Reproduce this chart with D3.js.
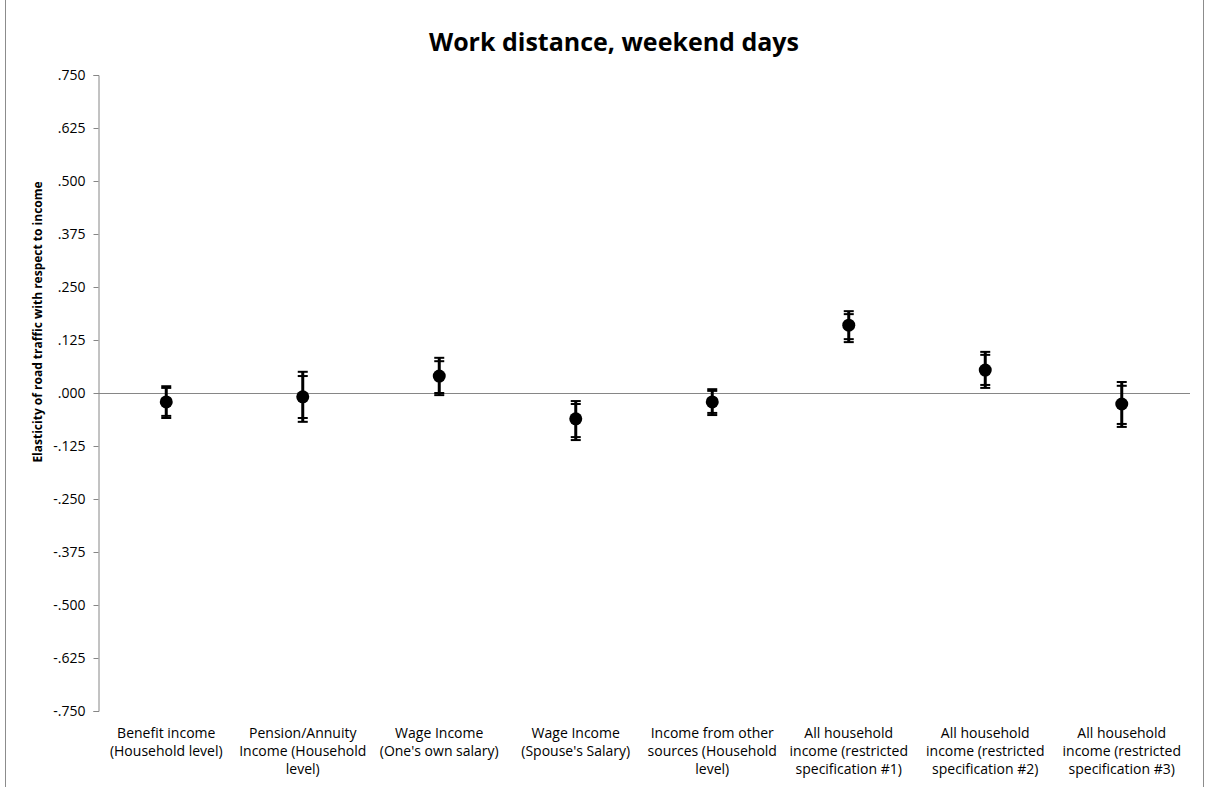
<!DOCTYPE html>
<html>
<head>
<meta charset="utf-8">
<script src="https://cdn.jsdelivr.net/npm/d3@7"></script>
<style>
  html, body { margin: 0; padding: 0; background: #fff; }
  svg { display: block; font-family: "Open Sans", "Noto Sans", sans-serif; }
</style>
</head>
<body>
<svg id="chart" width="1208" height="787"></svg>
<script>
// Income categories, one array of label lines each
const categories = [
  ["Benefit income", "(Household level)"],
  ["Pension/Annuity", "Income (Household", "level)"],
  ["Wage Income", "(One's own salary)"],
  ["Wage Income", "(Spouse's Salary)"],
  ["Income from other", "sources (Household", "level)"],
  ["All household", "income (restricted", "specification #1)"],
  ["All household", "income (restricted", "specification #2)"],
  ["All household", "income (restricted", "specification #3)"]
];

// Point estimates of the elasticity
const estimates = [-0.021, -0.009, 0.040, -0.061, -0.021, 0.160, 0.054, -0.026];

// Wider confidence interval (outer caps)
const outerLow  = [-0.059, -0.068, -0.005, -0.111, -0.052, 0.120, 0.012, -0.080];
const outerHigh = [ 0.016,  0.050,  0.083, -0.019,  0.009, 0.193, 0.097,  0.026];

// Narrower confidence interval (inner caps)
const innerLow  = [-0.054, -0.059,  0.000, -0.104, -0.047, 0.127, 0.019, -0.073];
const innerHigh = [ 0.012,  0.040,  0.075, -0.026,  0.005, 0.186, 0.090,  0.017];

// Y-axis tick values
const yTicks = [0.75, 0.625, 0.5, 0.375, 0.25, 0.125, 0, -0.125, -0.25, -0.375, -0.5, -0.625, -0.75];

const titleText = "Work distance, weekend days";
const yTitleText = "Elasticity of road traffic with respect to income";

const svg = d3.select("#chart");
const W = 1208, H = 787;
const margin = { left: 98, right: 18, top: 75, bottom: 76 };

// Chart area border
svg.append("rect")
  .attr("x", 5.5).attr("y", -5)
  .attr("width", 1198).attr("height", H + 10)
  .attr("fill", "none").attr("stroke", "#8c8c8c").attr("stroke-width", 1);

const x = d3.scaleBand()
  .domain(d3.range(categories.length))
  .range([margin.left, W - margin.right])
  .paddingInner(0).paddingOuter(0);

const y = d3.scaleLinear()
  .domain([-0.75, 0.75])
  .range([H - margin.bottom, margin.top]);

const fmt = v => {
  const s = d3.format(".3f")(Math.abs(v)).replace(/^0/, "");
  return (v < 0 ? "-" : "") + s;
};

// Y axis
const yAxis = d3.axisLeft(y)
  .tickValues(yTicks)
  .tickFormat(fmt)
  .tickSize(5)
  .tickPadding(8);

const gy = svg.append("g")
  .attr("transform", `translate(${margin.left + 0.5},0)`)
  .call(yAxis);
gy.select(".domain").attr("stroke", "#868686").attr("stroke-width", 1);
gy.selectAll(".tick line").attr("stroke", "#868686");
gy.selectAll(".tick text")
  .attr("fill", "#000")
  .style("font-family", "'Open Sans', sans-serif")
  .style("font-size", "14px");

// Zero line acting as the category axis
svg.append("line")
  .attr("x1", margin.left).attr("x2", W - margin.right)
  .attr("y1", Math.round(y(0)) + 0.5).attr("y2", Math.round(y(0)) + 0.5)
  .attr("stroke", "#868686").attr("stroke-width", 1);

// Category labels
const labels = svg.append("g").attr("class", "cat-labels");
categories.forEach((lines, i) => {
  const t = labels.append("text")
    .attr("x", x(i) + x.bandwidth() / 2)
    .attr("y", 738)
    .attr("text-anchor", "middle")
    .style("font-size", "14px")
    .attr("fill", "#000");
  lines.forEach((ln, j) => {
    t.append("tspan")
      .attr("x", x(i) + x.bandwidth() / 2)
      .attr("dy", j === 0 ? 0 : 18)
      .text(ln);
  });
});

// Error bars and markers
const cx = i => x(i) + x.bandwidth() / 2;
const capHalf = 5;
const marks = svg.append("g").attr("class", "marks");

estimates.forEach((v, i) => {
  const g = marks.append("g");
  g.append("line")
    .attr("x1", cx(i)).attr("x2", cx(i))
    .attr("y1", y(outerHigh[i])).attr("y2", y(outerLow[i]))
    .attr("stroke", "#000").attr("stroke-width", 3);
  [outerHigh[i], outerLow[i], innerHigh[i], innerLow[i]].forEach(b => {
    g.append("line")
      .attr("x1", cx(i) - capHalf).attr("x2", cx(i) + capHalf)
      .attr("y1", y(b)).attr("y2", y(b))
      .attr("stroke", "#000").attr("stroke-width", 2);
  });
  g.append("circle")
    .attr("cx", cx(i)).attr("cy", y(v))
    .attr("r", 6.5)
    .attr("fill", "#000");
});

// Title
svg.append("text")
  .attr("x", 614).attr("y", 51)
  .attr("text-anchor", "middle")
  .style("font-size", "25px")
  .style("font-weight", "bold")
  .text(titleText);

// Y-axis title
svg.append("text")
  .attr("transform", "translate(42,322) rotate(-90)")
  .attr("text-anchor", "middle")
  .style("font-size", "12px")
  .style("font-weight", "bold")
  .text(yTitleText);
</script>
</body>
</html>
